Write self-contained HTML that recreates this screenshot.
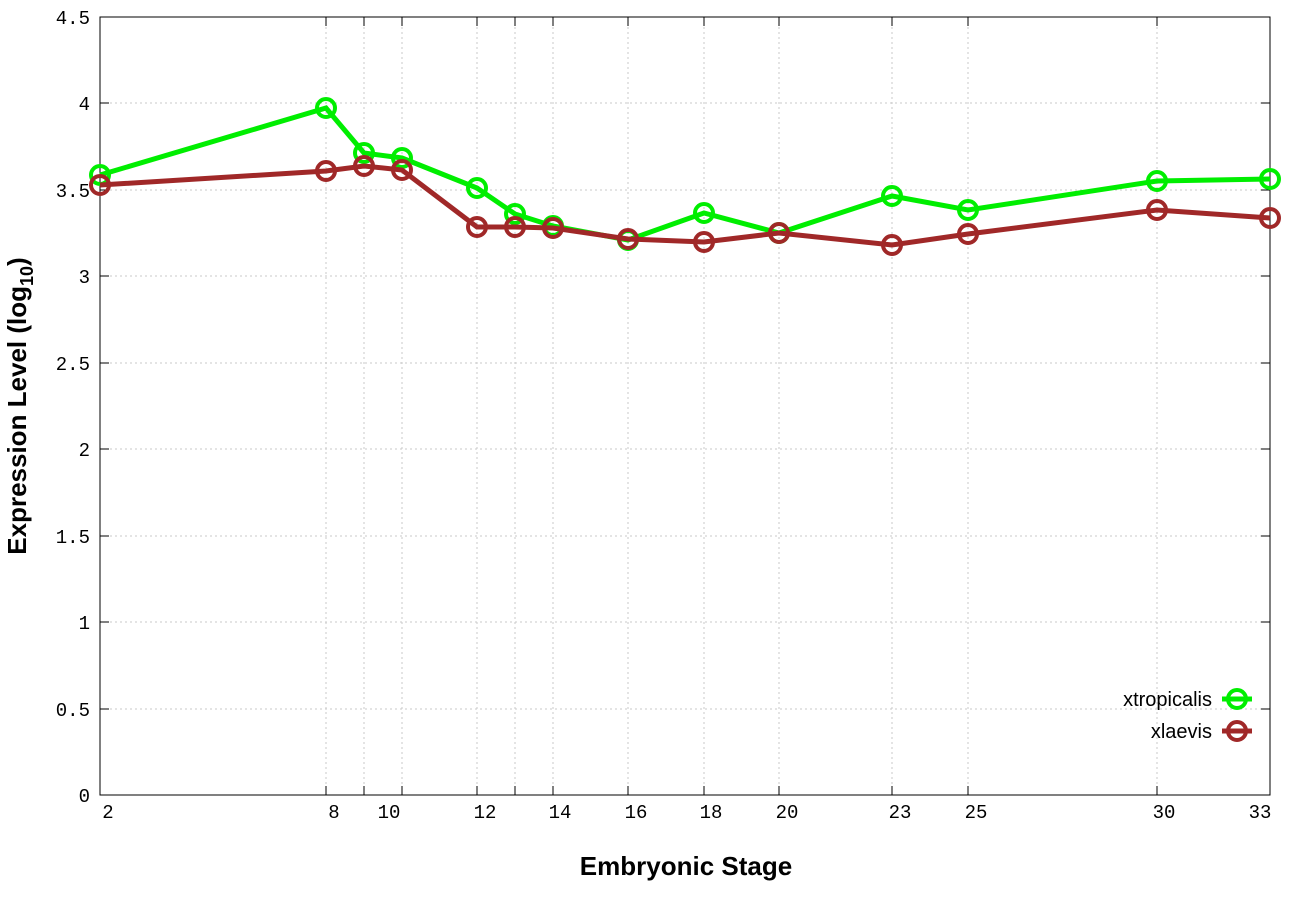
<!DOCTYPE html>
<html><head><style>body{margin:0;background:#fff}svg{display:block}</style></head><body>
<svg width="1296" height="907" xmlns="http://www.w3.org/2000/svg">
<rect width="1296" height="907" fill="#fff"/>
<g stroke="#c8c8c8" stroke-width="1" stroke-dasharray="2,3">
<line x1="100" y1="103" x2="1270" y2="103"/><line x1="100" y1="190" x2="1270" y2="190"/>
<line x1="100" y1="276" x2="1270" y2="276"/><line x1="100" y1="363" x2="1270" y2="363"/>
<line x1="100" y1="449" x2="1270" y2="449"/><line x1="100" y1="536" x2="1270" y2="536"/>
<line x1="100" y1="622" x2="1270" y2="622"/><line x1="100" y1="709" x2="1270" y2="709"/>
<line x1="326" y1="17" x2="326" y2="795"/><line x1="364" y1="17" x2="364" y2="795"/>
<line x1="402" y1="17" x2="402" y2="795"/><line x1="477" y1="17" x2="477" y2="795"/>
<line x1="515" y1="17" x2="515" y2="795"/><line x1="553" y1="17" x2="553" y2="795"/>
<line x1="628" y1="17" x2="628" y2="795"/><line x1="704" y1="17" x2="704" y2="795"/>
<line x1="779" y1="17" x2="779" y2="795"/><line x1="892" y1="17" x2="892" y2="795"/>
<line x1="968" y1="17" x2="968" y2="795"/><line x1="1157" y1="17" x2="1157" y2="795"/>
</g>
<rect x="100" y="17" width="1170" height="778" fill="none" stroke="#000" stroke-width="1"/>
<g stroke="#000" stroke-width="1">
<path d="M100 103h9M100 190h9M100 276h9M100 363h9M100 449h9M100 536h9M100 622h9M100 709h9M1270 103h-9M1270 190h-9M1270 276h-9M1270 363h-9M1270 449h-9M1270 536h-9M1270 622h-9M1270 709h-9"/>
<path d="M326 795v-9M364 795v-9M402 795v-9M477 795v-9M515 795v-9M553 795v-9M628 795v-9M704 795v-9M779 795v-9M892 795v-9M968 795v-9M1157 795v-9M326 17v9M364 17v9M402 17v9M477 17v9M515 17v9M553 17v9M628 17v9M704 17v9M779 17v9M892 17v9M968 17v9M1157 17v9"/>
</g>
<g font-family="Liberation Mono, monospace" font-size="19" fill="#000" text-anchor="end">
<text x="90" y="24">4.5</text><text x="90" y="110">4</text><text x="90" y="197">3.5</text>
<text x="90" y="283">3</text><text x="90" y="370">2.5</text><text x="90" y="456">2</text>
<text x="90" y="543">1.5</text><text x="90" y="629">1</text><text x="90" y="716">0.5</text><text x="90" y="802">0</text>
</g>
<g font-family="Liberation Mono, monospace" font-size="19" fill="#000" text-anchor="middle">
<text x="108" y="818">2</text><text x="334" y="818">8</text><text x="389" y="818">10</text>
<text x="485" y="818">12</text><text x="560" y="818">14</text><text x="636" y="818">16</text>
<text x="711" y="818">18</text><text x="787" y="818">20</text><text x="900" y="818">23</text>
<text x="976" y="818">25</text><text x="1164" y="818">30</text><text x="1260" y="818">33</text>
</g>
<text x="686" y="875" font-family="Liberation Sans, sans-serif" font-weight="bold" font-size="26" text-anchor="middle">Embryonic Stage</text>
<text transform="translate(26,406) rotate(-90)" font-family="Liberation Sans, sans-serif" font-weight="bold" font-size="26" text-anchor="middle">Expression Level (log<tspan font-size="18" dy="7">10</tspan><tspan dy="-7">)</tspan></text>
<g fill="none" stroke-width="5">
<polyline stroke="#00ee00" points="100,175 326,108 364,153 402,158 477,188 515,214 553,226 628,240 704,213 779,233 892,196 968,210 1157,181 1270,179"/>
<g stroke="#00ee00" stroke-width="4">
<circle cx="100" cy="175" r="9"/><circle cx="326" cy="108" r="9"/><circle cx="364" cy="153" r="9"/><circle cx="402" cy="158" r="9"/><circle cx="477" cy="188" r="9"/><circle cx="515" cy="214" r="9"/><circle cx="553" cy="226" r="9"/><circle cx="628" cy="240" r="9"/><circle cx="704" cy="213" r="9"/><circle cx="779" cy="233" r="9"/><circle cx="892" cy="196" r="9"/><circle cx="968" cy="210" r="9"/><circle cx="1157" cy="181" r="9"/><circle cx="1270" cy="179" r="9"/>
</g>
<polyline stroke="#a02828" points="100,185 326,171 364,166 402,170 477,227 515,227 553,228 628,239 704,242 779,233 892,245 968,234 1157,210 1270,218"/>
<g stroke="#a02828" stroke-width="4">
<circle cx="100" cy="185" r="9"/><circle cx="326" cy="171" r="9"/><circle cx="364" cy="166" r="9"/><circle cx="402" cy="170" r="9"/><circle cx="477" cy="227" r="9"/><circle cx="515" cy="227" r="9"/><circle cx="553" cy="228" r="9"/><circle cx="628" cy="239" r="9"/><circle cx="704" cy="242" r="9"/><circle cx="779" cy="233" r="9"/><circle cx="892" cy="245" r="9"/><circle cx="968" cy="234" r="9"/><circle cx="1157" cy="210" r="9"/><circle cx="1270" cy="218" r="9"/>
</g>
<line x1="1222" y1="699" x2="1252" y2="699" stroke="#00ee00"/>
<circle cx="1237" cy="699" r="9" stroke="#00ee00" stroke-width="4"/>
<line x1="1222" y1="731" x2="1252" y2="731" stroke="#a02828"/>
<circle cx="1237" cy="731" r="9" stroke="#a02828" stroke-width="4"/>
</g>
<g font-family="Liberation Sans, sans-serif" font-size="20" text-anchor="end">
<text x="1212" y="706">xtropicalis</text><text x="1212" y="738">xlaevis</text>
</g>
</svg>
</body></html>
